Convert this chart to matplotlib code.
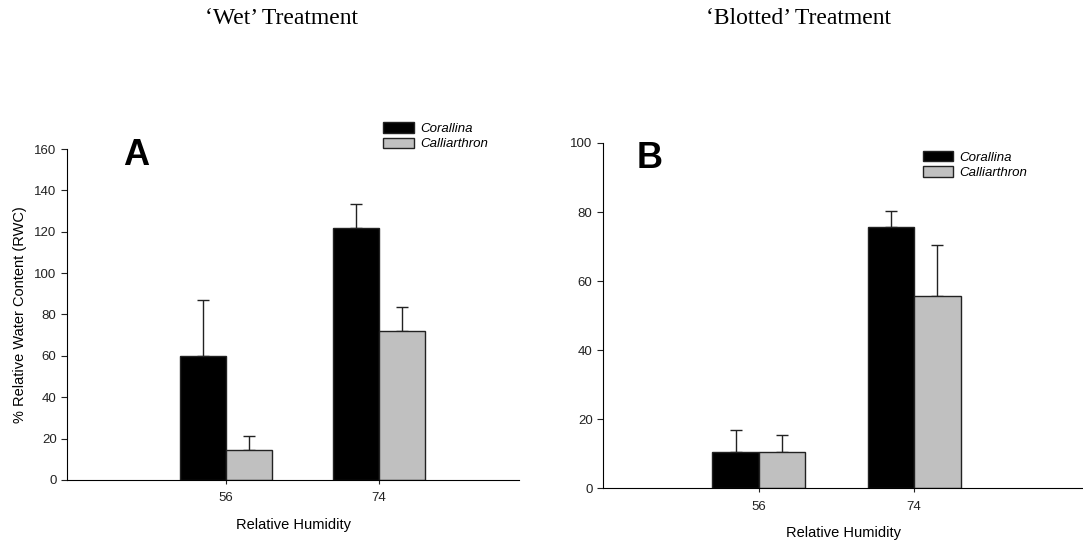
import numpy as np
import matplotlib
matplotlib.use("Agg")
import matplotlib.pyplot as plt
from matplotlib.patches import Patch

plt.rcParams['font.family'] = ['Liberation Sans', 'DejaVu Sans']

humidity = ["56", "74"]
species = ["Corallina", "Calliarthron"]
colors = ["#000000", "#c0c0c0"]

# panel A: 'Wet' treatment
wet_mean = [[60, 122], [14.5, 72]]
wet_err = [[27, 11.5], [7, 11.5]]

# panel B: 'Blotted' treatment
blot_mean = [[10.5, 75.7], [10.5, 55.7]]
blot_err = [[6.3, 4.6], [4.8, 14.7]]

fig = plt.figure(figsize=(10.83, 5.46), dpi=100)

def panel(rect, means, errs, ymax, yticks, xlim, letter, letter_pos, leg_pos, ylabel=None):
    ax = fig.add_axes(rect)
    x = np.arange(len(humidity))
    w = 0.30
    for i in range(2):
        pos = x + (i - 0.5) * w
        ax.bar(pos, means[i], w, color=colors[i], edgecolor="#222222", linewidth=1.0, zorder=2)
        ax.errorbar(pos, means[i], yerr=[np.zeros(len(x)), errs[i]], fmt="none",
                    ecolor="#222222", elinewidth=1.0, capsize=4.6, capthick=1.0, zorder=1)
    ax.set_xlim(*xlim)
    ax.set_ylim(0, ymax)
    ax.set_yticks(yticks)
    ax.set_xticks(x)
    ax.set_xticklabels(humidity)
    ax.spines['top'].set_visible(False)
    ax.spines['right'].set_visible(False)
    ax.tick_params(axis='both', direction='out', length=4, labelsize=9.5, colors="#222222")
    ax.tick_params(axis='x', length=3, pad=6)
    ax.set_xlabel("Relative Humidity", fontsize=10.5, labelpad=10)
    if ylabel:
        ax.set_ylabel(ylabel, fontsize=10.5, labelpad=5)
    ax.text(letter_pos[0], letter_pos[1], letter, transform=ax.transAxes,
            fontsize=26, fontweight='bold', va='center', ha='left')
    handles = [Patch(facecolor=colors[i], edgecolor="#222222", label=species[i]) for i in range(2)]
    ax.legend(handles=handles, loc='upper left', bbox_to_anchor=leg_pos, frameon=False,
              prop={'style': 'italic', 'size': 9.5}, handlelength=2.3, handleheight=0.85,
              labelspacing=0.2, handletextpad=0.5, borderaxespad=0)
    return ax

panel([0.0619, 0.1209, 0.4173, 0.6062], wet_mean, wet_err, 160, range(0, 161, 20),
      (-1.04, 1.915), "A", (0.125, 0.98), (0.688, 1.097),
      ylabel="% Relative Water Content (RWC)")
panel([0.5568, 0.1062, 0.4432, 0.6319], blot_mean, blot_err, 100, range(0, 101, 20),
      (-1.006, 2.09), "B", (0.07, 0.955), (0.655, 0.993))

fig.text(0.2595, 0.966, "\u2018Wet\u2019 Treatment", family=['Liberation Serif', 'DejaVu Serif'],
         fontsize=17, ha='center', va='center')
fig.text(0.737, 0.966, "\u2018Blotted\u2019 Treatment", family=['Liberation Serif', 'DejaVu Serif'],
         fontsize=17, ha='center', va='center')

plt.savefig("out.png", dpi=100)
